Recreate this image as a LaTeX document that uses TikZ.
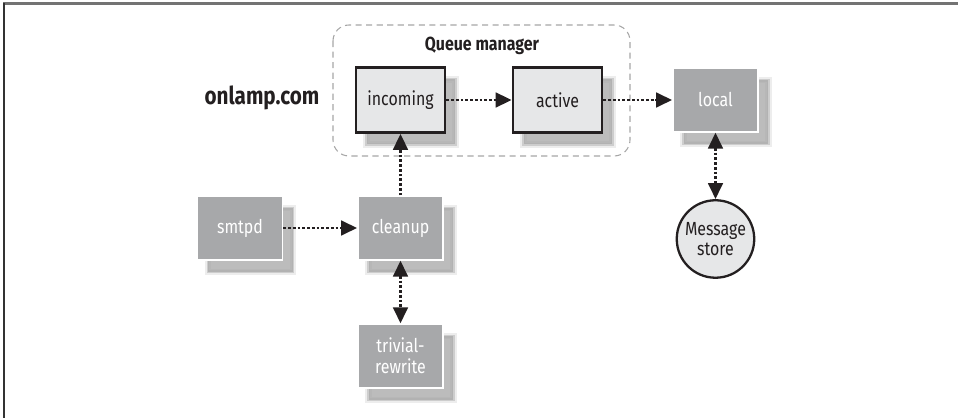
\documentclass[tikz,border=0pt]{standalone}
\usepackage{fontspec}
\setmainfont{Fira Sans}[FakeStretch=0.84]
\usetikzlibrary{arrows.meta,shadows}

\definecolor{procgray}{HTML}{A7A8AA}
\definecolor{queuefill}{HTML}{E6E7E8}
\definecolor{inkgray}{HTML}{231F20}

\tikzset{
  softshadow/.style={
    drop shadow={shadow xshift=0.21cm, shadow yshift=-0.24cm, fill=black!14, draw=black!14, line width=3.5pt},
    drop shadow={shadow xshift=0.21cm, shadow yshift=-0.24cm, fill=black!45, draw=black!32, line width=1.5pt}},
  proc/.style={softshadow, draw=white, line width=1pt, fill=procgray, text=white,
    minimum width=1.7cm, minimum height=1.27cm, align=center, inner sep=1pt,
    font=\fontsize{10.8}{12}\selectfont},
  queue/.style={softshadow, draw=inkgray, line width=1.5pt, fill=queuefill, text=inkgray,
    minimum width=1.78cm, minimum height=1.3cm, font=\fontsize{10.8}{12}\selectfont},
  store/.style={circle, draw=inkgray, line width=1.3pt, fill=queuefill, text=inkgray,
    minimum size=1.55cm, inner sep=0pt, align=center, font=\fontsize{10.8}{11.5}\selectfont},
  flow/.style={draw=inkgray, line width=1.7pt, dash pattern=on 1.6pt off 1.1pt,
    -{Triangle[length=3.2mm,width=2.9mm]}},
  twoway/.style={flow, {Triangle[length=3.2mm,width=2.9mm]}-{Triangle[length=3.2mm,width=2.9mm]}}
}

\begin{document}
\begin{tikzpicture}[x=0.02cm,y=-0.02cm]
  \useasboundingbox (0,0) rectangle (958,418);

  % page frame
  \draw[black!55, line width=1.2pt] (3,3.5) -- (958,3.5);
  \draw[black!80, line width=1.2pt] (4,3) -- (4,418);

  % queue manager group
  \draw[black!35, line width=0.6pt, dash pattern=on 3.5pt off 2.5pt, rounded corners=0.32cm]
    (333,25) rectangle (630,156);
  \node[inkgray, font=\bfseries\fontsize{10.8}{12}\selectfont] (qmlabel) at (482,46) {Queue manager};
  \node[inkgray, font=\bfseries\fontsize{14}{16}\selectfont] (host) at (262,98) {onlamp.com};

  % queues
  \node[queue] (incoming) at (400.5,100) {incoming};
  \node[queue] (active) at (557.5,100) {active};

  % daemons
  \node[proc] (local) at (715.5,100) {local};
  \node[proc] (smtpd) at (240,228) {smtpd};
  \node[proc] (cleanup) at (400.5,228) {cleanup};
  \node[proc] (rewrite) at (400.5,356) {trivial-\\rewrite};
  \node[store] (store) at (715.5,239) {Message\\store};

  % mail flow
  \draw[flow] (smtpd) -- (cleanup);
  \draw[flow] (cleanup) -- (incoming);
  \draw[flow] (incoming) -- (active);
  \draw[flow] (active) -- (local);
  \draw[twoway] (cleanup) -- (rewrite);
  \draw[twoway] (local) -- (store);
\end{tikzpicture}
\end{document}
